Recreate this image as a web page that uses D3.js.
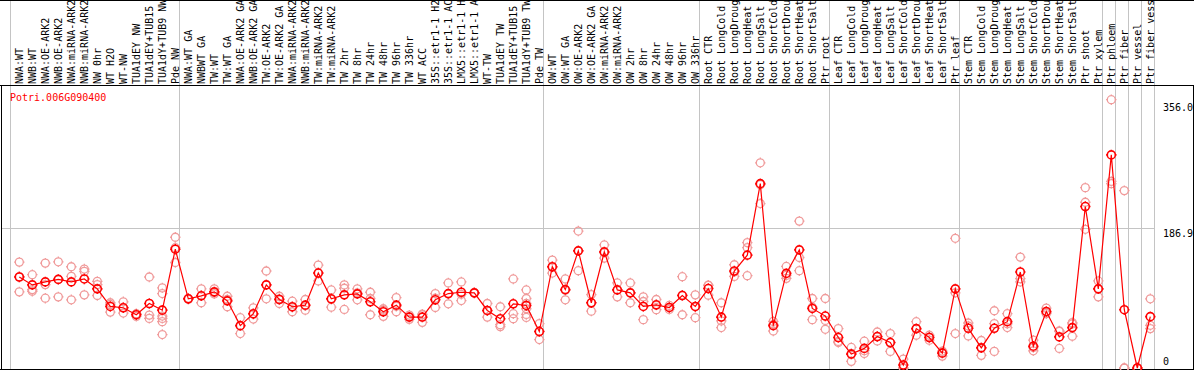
<!DOCTYPE html>
<html>
<head>
<meta charset="utf-8">
<script src="https://cdn.jsdelivr.net/npm/d3@7"></script>
<style>
  body { margin: 0; background: #fff; }
  svg text { font-family: "DejaVu Sans Mono", monospace; font-size: 10px; }
</style>
</head>
<body>
<svg id="chart"></svg>
<script>
const geneId = "Potri.006G090400";

const sampleLabels = [
  "NWA:WT", "NWB:WT", "NWA:OE-ARK2", "NWB:OE-ARK2", "NWA:miRNA-ARK2", "NWB:miRNA-ARK2",
  "NW 0hr", "WT H2O", "WT-NW", "TUA1dEY NW", "TUA1dEY+TUB15 NW", "TUA1dY+TUB9 NW", "Pde NW",
  "NWA:WT GA", "NWBWT GA", "TW:WT", "TW:WT GA", "NWA:OE-ARK2 GA", "NWB:OE-ARK2 GA",
  "TW:OE-ARK2", "TW:OE-ARK2 GA", "NWA:miRNA-ARK2", "NWB:miRNA-ARK2", "TW:miRNA-ARK2", "TW:miRNA-ARK2 GA",
  "TW 2hr", "TW 8hr", "TW 24hr", "TW 48hr", "TW 96hr", "TW 336hr", "WT ACC",
  "35S::etr1-1 H2O", "35S::etr1-1 ACC", "LMX5::etr1-1 H2O", "LMX5::etr1-1 ACC",
  "WT-TW", "TUA1dEY TW", "TUA1dEY+TUB15 TW", "TUA1dY+TUB9 TW", "Pde TW",
  "OW:WT", "OW:WT GA", "OW:OE-ARK2", "OW:OE-ARK2 GA", "OW:miRNA-ARK2", "OW:miRNA-ARK2 GA",
  "OW 2hr", "OW 8hr", "OW 24hr", "OW 48hr", "OW 96hr", "OW 336hr",
  "Root CTR", "Root LongCold", "Root LongDrought", "Root LongHeat", "Root LongSalt",
  "Root ShortCold", "Root ShortDrought", "Root ShortHeat", "Root ShortSalt", "Ptr root",
  "Leaf CTR", "Leaf LongCold", "Leaf LongDrought", "Leaf LongHeat", "Leaf LongSalt",
  "Leaf ShortCold", "Leaf ShortDrought", "Leaf ShortHeat", "Leaf ShortSalt", "Ptr leaf",
  "Stem CTR", "Stem LongCold", "Stem LongDrought", "Stem LongHeat", "Stem LongSalt",
  "Stem ShortCold", "Stem ShortDrought", "Stem ShortHeat", "Stem ShortSalt", "Ptr shoot", "Ptr xylem",
  "Ptr phloem", "Ptr fiber", "Ptr vessel", "Ptr fiber vessel"
];

const meanValues = [
  121.8, 111.2, 115.2, 118.6, 115.2, 119.2, 105.9, 82.4, 80.6, 71.3, 86.3, 77.4, 159.0,
  92.6, 96.6, 101.9, 89.9, 56.7, 72.7, 111.2, 91.7, 82.0, 84.1, 127.1, 92.6, 97.9, 99.2,
  88.6, 75.3, 84.1, 68.1, 68.1, 91.3, 99.6, 101.4, 100.6, 77.0, 66.0, 85.9, 83.7, 48.8,
  135.5, 104.9, 156.8, 87.3, 155.4, 104.5, 100.6, 82.4, 84.6, 81.0, 97.0, 82.4,
  106.3, 68.1, 129.8, 151.0, 246.7, 56.7, 126.6, 158.1, 79.7, 69.5,
  40.8, 18.6, 26.2, 42.1, 34.1, 4.0, 52.7, 40.8, 19.9, 105.9,
  53.1, 27.0, 53.1, 62.0, 128.5, 29.2, 75.7, 41.6, 54.1, 216.1, 105.9,
  285.2, 78.0, 0, 68.7
];

const replicateValues = [
  [141.7, 122.2, 101.9], [124.9, 104.9, 102.7], [140.4, 111.6, 93.4], [142.1, 118.5, 95.2],
  [135.5, 122.6, 91.3], [132.4, 129.3, 97.9], [116.0, 111.6, 97.0], [87.3, 85.0, 74.8],
  [88.6, 81.0, 73.5], [72.7, 69.1, 72.0], [121.8, 70.8, 66.4],
  [107.2, 99.6, 69.5, 66.4, 62.0, 44.8], [175.0, 161.0, 141.2],
  [92.6, 92.0, 93.2], [105.9, 87.3, 96.6], [105.9, 100.6, 99.2], [96.0, 82.0, 91.7],
  [67.3, 46.1, 56.7], [80.6, 65.5, 72.0], [129.8, 92.6, 111.2], [96.0, 86.3, 92.6],
  [89.4, 75.3, 81.4], [91.7, 77.4, 83.2], [137.8, 116.5, 127.1], [104.5, 81.4, 92.0],
  [111.2, 106.7, 78.4], [105.9, 91.3, 100.6], [101.4, 71.3, 93.0], [79.3, 69.1, 77.4],
  [94.3, 75.3, 82.6], [70.8, 65.1, 68.4], [72.1, 61.1, 71.0], [99.6, 81.0, 93.4],
  [113.8, 85.9, 99.2], [115.2, 90.3, 98.6], [100.0, 101.0, 100.6], [86.3, 68.1, 76.6],
  [82.0, 58.0, 55.4], [119.2, 72.7, 66.0], [104.5, 93.0, 86.3, 79.3, 71.7, 67.7],
  [59.4, 38.1, 48.9],
  [144.4, 127.1, 135.0], [119.2, 91.3, 104.2], [183.3, 130.2, 157.0], [98.3, 76.1, 87.5],
  [164.7, 147.1, 154.4], [113.8, 95.2, 104.5], [113.8, 87.3, 100.7], [95.2, 89.0, 64.7],
  [91.7, 78.0, 84.1], [83.7, 78.4, 80.9], [122.2, 71.3, 97.5], [97.9, 67.3, 82.0],
  [110.7, 97.4, 110.8], [87.3, 54.1, 63.0], [138.2, 122.6, 128.6], [167.8, 161.1, 123.5],
  [274.6, 220.1, 245.4], [62.4, 49.5, 58.2], [135.9, 120.0, 123.9], [196.6, 147.9, 130.2],
  [93.0, 64.7, 81.4], [93.0, 51.8, 63.7],
  [52.7, 34.1, 35.6], [27.5, 8.9, 19.4], [35.9, 19.5, 23.2], [48.2, 36.3, 41.8],
  [46.1, 22.2, 34.0], [12.0, 0, 0], [62.0, 43.8, 52.3], [43.8, 37.2, 41.4],
  [22.6, 15.9, 21.2], [173.6, 100.6, 46.1],
  [60.2, 42.9, 56.2], [36.8, 16.9, 27.3], [76.6, 59.4, 22.2], [72.7, 54.1, 59.2],
  [148.4, 119.6, 115.2], [37.2, 23.0, 27.4], [80.1, 72.7, 74.3], [49.5, 26.2, 49.1],
  [60.7, 42.5, 59.1], [241.4, 221.8, 185.6], [116.5, 95.2, 106.0],
  [359.1, 246.7, 249.8], [237.4, 0, 0], [0, 0, 0], [92.6, 57.1, 52.7]
];

// first sample of each group (vertical separators)
const groupStarts = [0, 13, 41, 53, 63, 73, 84, 85, 86, 87];
const yTicks = [0, 186.9, 356.0];

const width = 1194, height = 370;
const headerY = 85.5, bottomY = 369.5;

const svg = d3.select("#chart").attr("width", width).attr("height", height);

const x = d3.scaleBand()
  .domain(d3.range(sampleLabels.length))
  .range([10.5, 1154.5]);
const cx = i => x(i) + 8.8;

const y = d3.scaleLinear().domain([0, 356]).range([368, 102]);

// gray separators
const seps = groupStarts.map(i => x(i)).concat([x.range()[1]]);
svg.append("g").selectAll("line").data(seps).join("line")
  .attr("x1", d => d).attr("x2", d => d)
  .attr("y1", 0).attr("y2", bottomY)
  .attr("stroke", "#c4c4c4").attr("stroke-width", 1);

// horizontal reference line at middle tick
svg.append("line")
  .attr("x1", 1.5).attr("x2", x.range()[1])
  .attr("y1", Math.round(y(yTicks[1])) + 0.5).attr("y2", Math.round(y(yTicks[1])) + 0.5)
  .attr("stroke", "#c4c4c4");

// frame
const frame = svg.append("g").attr("stroke", "#000").attr("stroke-width", 1);
frame.append("line").attr("x1", 0).attr("x2", width).attr("y1", 0.5).attr("y2", 0.5);
frame.append("line").attr("x1", 0).attr("x2", width).attr("y1", headerY).attr("y2", headerY);
frame.append("line").attr("x1", 0).attr("x2", width).attr("y1", bottomY).attr("y2", bottomY);
frame.append("line").attr("x1", 1.5).attr("x2", 1.5).attr("y1", headerY).attr("y2", bottomY);
frame.append("line").attr("x1", 1193.5).attr("x2", 1193.5).attr("y1", headerY).attr("y2", bottomY);

// sample labels (rotated)
svg.append("g").selectAll("text").data(sampleLabels).join("text")
  .attr("transform", (d, i) => `translate(${x(i) + 12.5},84) rotate(-90)`)
  .attr("fill", "#000")
  .text(d => d);

// gene id
svg.append("text").attr("x", 10).attr("y", 100.5).attr("fill", "#ff0000").text(geneId);

// y tick labels
svg.append("g").selectAll("text").data(yTicks).join("text")
  .attr("x", 1163)
  .attr("y", d => Math.min(y(d) + 8.5, 365))
  .attr("fill", "#000")
  .text(d => d === 0 ? "0" : d.toFixed(1));

const marker = r => `M${-r},0a${r},${r} 0 1,0 ${2 * r},0a${r},${r} 0 1,0 ${-2 * r},0` +
  `M0,${-r}v-1.2M0,${r}v1.2M${-r},0h-1.2M${r},0h1.2`;

// replicates
const reps = replicateValues.flatMap((vals, i) => vals.map(v => ({ i, v })));
svg.append("g").selectAll("path").data(reps).join("path")
  .attr("transform", d => `translate(${cx(d.i)},${y(d.v)})`)
  .attr("d", marker(4))
  .attr("fill", "none")
  .attr("stroke", "#f09a9a")
  .attr("stroke-width", 1.3);

// mean line
svg.append("path")
  .datum(meanValues)
  .attr("d", d3.line().x((d, i) => cx(i)).y(d => y(d)))
  .attr("fill", "none")
  .attr("stroke", "#ff0000")
  .attr("stroke-width", 1.2);

// means
svg.append("g").selectAll("path").data(meanValues).join("path")
  .attr("transform", (d, i) => `translate(${cx(i)},${y(d)})`)
  .attr("d", marker(4))
  .attr("fill", "none")
  .attr("stroke", "#ff0000")
  .attr("stroke-width", 1.6);
</script>
</body>
</html>
